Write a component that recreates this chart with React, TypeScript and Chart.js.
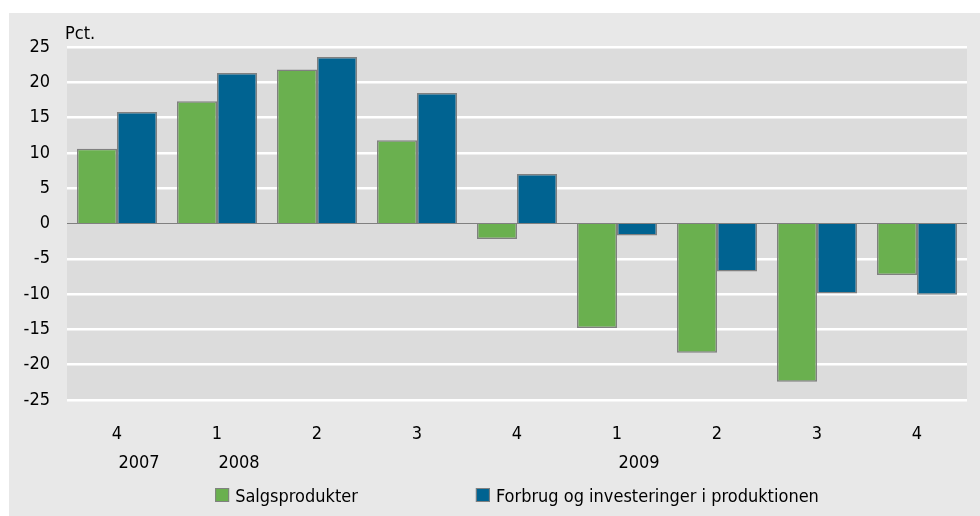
import React, { useEffect, useRef } from "react";
import { Chart, registerables } from "chart.js";

Chart.register(...registerables);

const categories = ["4", "1", "2", "3", "4", "1", "2", "3", "4"];
const years = ["2007", "2008", "", "", "", "2009", "", "", ""];
const salgsprodukter = [10.6, 17.3, 21.8, 11.8, -2.2, -14.8, -18.3, -22.4, -7.3];
const forbrug = [15.8, 21.3, 23.6, 18.5, 7.0, -1.7, -6.8, -9.9, -10.1];
const seriesNames = ["Salgsprodukter", "Forbrug og investeringer i produktionen"];
const yUnit = "Pct.";
const yMin = -25;
const yMax = 25;
const yStep = 5;

const GREEN = "#6ab04f";
const BLUE = "#006391";
const EDGE = "#808080";
const FONT = "'DejaVu Sans Condensed', 'Liberation Sans', Arial, sans-serif";
const FSIZE = 18;

export default function App() {
  const ref = useRef<HTMLCanvasElement | null>(null);

  useEffect(() => {
    if (!ref.current) return;

    const bgPlugin = {
      id: "plotBg",
      beforeDraw(chart: any) {
        const { ctx, chartArea } = chart;
        ctx.save();
        ctx.fillStyle = "#dcdcdc";
        ctx.fillRect(chartArea.left, chartArea.top, chartArea.right - chartArea.left, chartArea.bottom - chartArea.top);
        ctx.restore();
      },
    };

    const textPlugin = {
      id: "extraText",
      afterDraw(chart: any) {
        const { ctx, chartArea } = chart;
        const xs = chart.scales.x;
        ctx.save();
        ctx.fillStyle = "#000";
        ctx.font = `${FSIZE}px ${FONT}`;
        // unit label
        ctx.textAlign = "left";
        ctx.textBaseline = "alphabetic";
        ctx.fillText(yUnit, chartArea.left - 2, 26);
        // years
        ctx.textAlign = "center";
        ctx.textBaseline = "middle";
        years.forEach((y, i) => {
          if (!y) return;
          ctx.fillText(y, xs.getPixelForValue(i) + 22, chartArea.bottom + 63);
        });
        // legend
        const box = 14;
        const gap = 6;
        const itemGap = 118;
        const colors = [GREEN, BLUE];
        const widths = seriesNames.map((n) => box + gap + ctx.measureText(n).width);
        const total = widths[0] + itemGap + widths[1];
        let x = (chartArea.left + chartArea.right) / 2 - total / 2;
        const by = chartArea.bottom + 88;
        ctx.textAlign = "left";
        ctx.textBaseline = "alphabetic";
        seriesNames.forEach((n, i) => {
          ctx.fillStyle = colors[i];
          ctx.fillRect(x, by, box, box);
          ctx.strokeStyle = EDGE;
          ctx.lineWidth = 1;
          ctx.strokeRect(x + 0.5, by + 0.5, box - 1, box - 1);
          ctx.fillStyle = "#000";
          ctx.fillText(n, x + box + gap, by + 14);
          x += widths[i] + itemGap;
        });
        ctx.restore();
      },
    };

    const chart = new Chart(ref.current, {
      type: "bar",
      data: {
        labels: categories,
        datasets: [
          {
            label: seriesNames[0],
            data: salgsprodukter,
            backgroundColor: GREEN,
            borderColor: EDGE,
            borderWidth: 1.5,
            categoryPercentage: 0.8,
            barPercentage: 1.0,
          },
          {
            label: seriesNames[1],
            data: forbrug,
            backgroundColor: BLUE,
            borderColor: EDGE,
            borderWidth: 1.5,
            categoryPercentage: 0.8,
            barPercentage: 1.0,
          },
        ],
      },
      options: {
        responsive: false,
        animation: false,
        maintainAspectRatio: false,
        layout: { padding: { top: 34, right: 13, left: 0, bottom: 0 } },
        plugins: {
          legend: { display: false },
          tooltip: { enabled: false },
        },
        scales: {
          x: {
            grid: { display: false, drawTicks: false },
            border: { display: false },
            ticks: {
              color: "#000",
              font: { family: FONT, size: FSIZE },
              padding: 24,
              maxRotation: 0,
              autoSkip: false,
            },
            afterFit(scale: any) {
              scale.height = 116;
            },
          },
          y: {
            min: yMin,
            max: yMax,
            grid: {
              drawTicks: false,
              color: (c: any) => (c.tick && c.tick.value === 0 ? "#808080" : "#ffffff"),
              lineWidth: (c: any) => (c.tick && c.tick.value === 0 ? 1 : 2.5),
            },
            border: { display: false },
            ticks: {
              stepSize: yStep,
              color: "#000",
              font: { family: FONT, size: FSIZE },
              padding: 17,
            },
            afterFit(scale: any) {
              scale.width = 58;
            },
          },
        },
      },
      plugins: [bgPlugin, textPlugin],
    });

    return () => chart.destroy();
  }, []);

  return (
    <div
      style={{
        position: "absolute",
        left: 9,
        top: 13,
        width: 971,
        height: 503,
        background: "#e8e8e8",
      }}
    >
      <canvas ref={ref} width={971} height={503} style={{ display: "block" }} />
    </div>
  );
}
